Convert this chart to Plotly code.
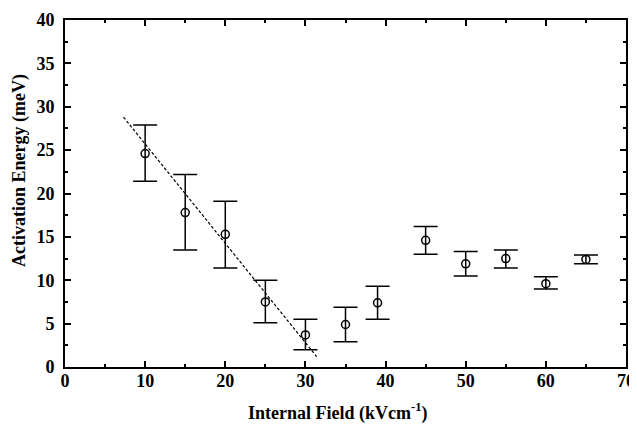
import plotly.graph_objects as go

field = [10, 15, 20, 25, 30, 35, 39, 45, 50, 55, 60, 65]
energy = [24.6, 17.8, 15.3, 7.5, 3.7, 4.9, 7.4, 14.6, 11.9, 12.5, 9.6, 12.4]
err_hi = [27.9, 22.2, 19.1, 10.0, 5.5, 6.9, 9.3, 16.2, 13.3, 13.5, 10.4, 12.9]
err_lo = [21.4, 13.5, 11.4, 5.1, 2.0, 2.9, 5.5, 13.0, 10.5, 11.4, 9.0, 11.9]

fit_x = [7.3, 31.4]
fit_y = [28.8, 1.2]

font = dict(family="Liberation Serif", color="black")

fig = go.Figure()

fig.add_trace(go.Scatter(
    x=fit_x, y=fit_y, mode="lines",
    line=dict(color="black", width=1.2, dash="3px,2px"),
    showlegend=False,
))

fig.add_trace(go.Scatter(
    x=field, y=energy, mode="markers",
    marker=dict(symbol="circle-open", size=8, color="black", line=dict(width=1.5)),
    error_y=dict(
        type="data", symmetric=False,
        array=[h - e for h, e in zip(err_hi, energy)],
        arrayminus=[e - l for e, l in zip(energy, err_lo)],
        color="black", thickness=1.5, width=12,
    ),
    showlegend=False,
))

axis_common = dict(
    showline=True, linecolor="black", linewidth=2, mirror="allticks",
    ticks="inside", ticklen=6, tickwidth=1.5, tickcolor="black",
    showgrid=False, zeroline=False, automargin=False,
    tickfont=dict(size=18, family="Liberation Serif", color="black"),
    tickprefix="<b>", ticksuffix="</b>", ticklabeloverflow="allow",
)

fig.update_xaxes(
    range=[0, 70], dtick=10, ticklabelstandoff=-4,
    minor=dict(ticks="inside", dtick=5, ticklen=3, tickcolor="black"),
    **axis_common,
)
fig.update_yaxes(
    range=[0, 40], dtick=5, ticklabelstandoff=5,
    minor=dict(ticks="inside", dtick=2.5, ticklen=3, tickcolor="black"),
    **axis_common,
)

# axis titles as annotations so they can sit where the original has them
fig.add_annotation(
    text="<b>Internal Field (kVcm<sup>-1</sup>)</b>", showarrow=False,
    xref="paper", yref="paper", x=0.486, y=-0.13, xanchor="center", yanchor="middle",
    font=dict(size=18, **font),
)
fig.add_annotation(
    text="<b>Activation Energy (meV)</b>", showarrow=False, textangle=-90,
    xref="paper", yref="paper", x=-0.08, y=0.565, xanchor="center", yanchor="middle",
    font=dict(size=18, **font),
)

# the page body has an 8px margin; margins are shifted so the plot lands where the original has it
fig.update_layout(
    width=637, height=426,
    margin=dict(l=57, r=19, t=12, b=67),
    plot_bgcolor="white", paper_bgcolor="white",
    font=font,
)

fig.write_html("out.html")
